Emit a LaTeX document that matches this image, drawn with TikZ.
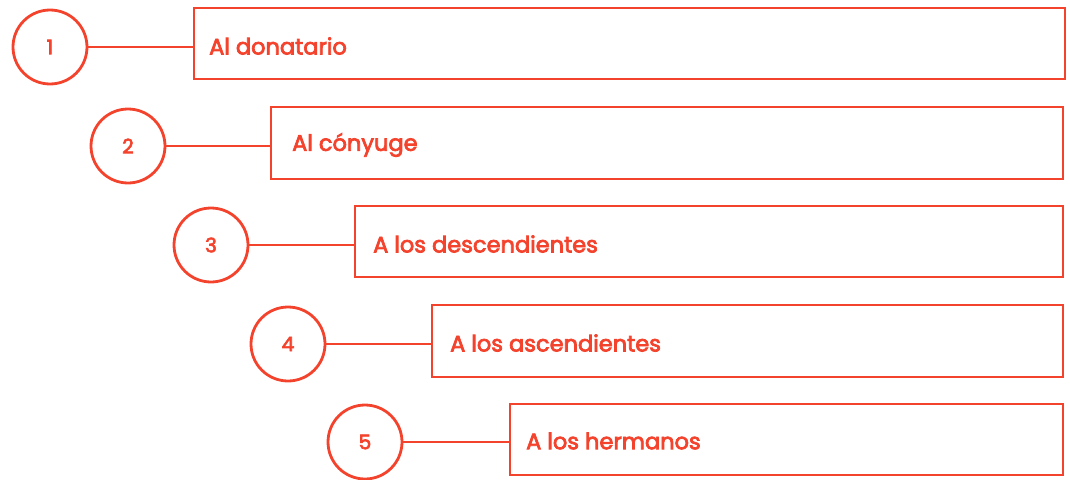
\documentclass[tikz,border=0pt]{standalone}
\usepackage{fontspec}
\setmainfont{Poppins}
\newfontfamily\labelfont{Poppins}[FakeBold=3.2]
\definecolor{accent}{HTML}{F4432D}
\begin{document}
\begin{tikzpicture}[x=1pt,y=-1pt,
  numcirc/.style={circle, draw=accent, line width=2.8pt, minimum size=74pt, inner sep=0pt, text=accent, font=\labelfont\fontsize{20}{22}\selectfont},
  boxline/.style={draw=accent, line width=2.8pt},
  labeltext/.style={text=accent, font=\labelfont\fontsize{22.5}{25}\selectfont, anchor=west, inner sep=0pt},
  conn/.style={draw=accent, line width=2.8pt}]
\useasboundingbox (0,0) rectangle (1070,479);
\node[numcirc] (c1) at (50,47) {1};
\node[numcirc] (c2) at (128,146) {2};
\node[numcirc] (c3) at (211,245) {3};
\node[numcirc] (c4) at (288,344) {4};
\node[numcirc] (c5) at (365,442) {5};
\draw[boxline] (194,8) rectangle (1065,79);
\draw[boxline] (271,107) rectangle (1063,179);
\draw[boxline] (355,206) rectangle (1063,277);
\draw[boxline] (432,305) rectangle (1063,377);
\draw[boxline] (510,404) rectangle (1063,475);
\coordinate (b1) at (194,47);
\coordinate (b2) at (271,146);
\coordinate (b3) at (355,245);
\coordinate (b4) at (432,344);
\coordinate (b5) at (510,442);
\node[labeltext] (t1) at (209,46) {Al donatario};
\node[labeltext] (t2) at (292,145) {Al cónyuge};
\node[labeltext] (t3) at (373,244) {A los descendientes};
\node[labeltext] (t4) at (450,343) {A los ascendientes};
\node[labeltext] (t5) at (526,441) {A los hermanos};
\draw[conn] (c1) -- (b1);
\draw[conn] (c2) -- (b2);
\draw[conn] (c3) -- (b3);
\draw[conn] (c4) -- (b4);
\draw[conn] (c5) -- (b5);
\end{tikzpicture}
\end{document}
